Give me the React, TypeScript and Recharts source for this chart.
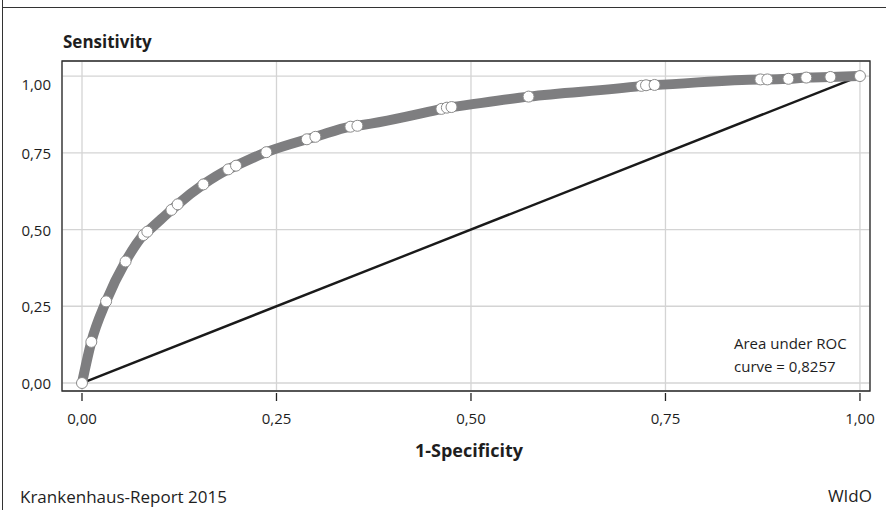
import React from 'react';
import { LineChart, Line, XAxis, YAxis, CartesianGrid, ReferenceArea } from 'recharts';

const fpr = [0, 0.012, 0.031, 0.056, 0.079, 0.084, 0.115, 0.123, 0.156, 0.188, 0.198, 0.237, 0.289, 0.3, 0.345, 0.354, 0.462, 0.469, 0.475, 0.574, 0.719, 0.725, 0.736, 0.872, 0.881, 0.908, 0.931, 0.962, 1];
const tpr = [0, 0.134, 0.266, 0.396, 0.482, 0.493, 0.564, 0.582, 0.647, 0.696, 0.708, 0.752, 0.794, 0.802, 0.835, 0.838, 0.893, 0.897, 0.899, 0.933, 0.968, 0.97, 0.971, 0.989, 0.989, 0.991, 0.995, 0.997, 1];
const diagonalFpr = [0, 1];
const diagonalTpr = [0, 1];
const xTicks = [0, 0.25, 0.5, 0.75, 1];
const yTicks = [0, 0.25, 0.5, 0.75, 1];
const xTickLabels = ['0,00', '0,25', '0,50', '0,75', '1,00'];
const yTickLabels = ['0,00', '0,25', '0,50', '0,75', '1,00'];
const aucLines = ['Area under ROC', 'curve = 0,8257'];
const xDomain = [-0.0257, 1.0129];
const yDomain = [-0.026, 1.049];

const rocData = fpr.map((x, i) => ({ fpr: x, tpr: tpr[i] }));
const diagData = diagonalFpr.map((x, i) => ({ fpr: x, tpr: diagonalTpr[i] }));

const FONT = "'Open Sans', sans-serif";
const TEXT = '#1e1e1e';

const XTick = (props: any) => {
  const { x, y, payload } = props;
  const idx = xTicks.indexOf(payload.value);
  return (
    <g>
      <line x1={x} x2={x} y1={y + 2} y2={y + 10} stroke="#222" strokeWidth={1.3} />
      <text x={x} y={y + 33} textAnchor="middle" fontFamily={FONT} fontSize={15} fill={TEXT}>
        {xTickLabels[idx]}
      </text>
    </g>
  );
};

const YTick = (props: any) => {
  const { x, y, payload } = props;
  const idx = yTicks.indexOf(payload.value);
  const shift = payload.value === 1 ? 13.5 : 6;
  return (
    <text x={x - 11} y={y + shift} textAnchor="end" fontFamily={FONT} fontSize={15} fill={TEXT}>
      {yTickLabels[idx]}
    </text>
  );
};

export default function App() {
  return (
    <div style={{ position: 'absolute', left: 0, top: 0, width: 886, height: 510, background: '#fff', fontFamily: FONT, color: TEXT }}>
      <div style={{ position: 'absolute', left: 2, top: 7, width: 884, height: 1.4, background: '#333' }} />
      <div style={{ position: 'absolute', left: 2, top: 0, width: 1.4, height: 510, background: '#333' }} />
      <LineChart width={886} height={510} margin={{ top: 61, right: 16, bottom: 0, left: 0 }}>
        <CartesianGrid stroke="#d4d4d4" strokeWidth={1.3} />
        <XAxis
          type="number"
          dataKey="fpr"
          domain={xDomain}
          ticks={xTicks}
          allowDataOverflow
          height={119}
          axisLine={false}
          tickLine={false}
          tickSize={0}
          tickMargin={0}
          tick={<XTick />}
          interval={0}
        />
        <YAxis
          type="number"
          dataKey="tpr"
          domain={yDomain}
          ticks={yTicks}
          allowDataOverflow
          width={62}
          axisLine={false}
          tickLine={false}
          tickSize={0}
          tickMargin={0}
          tick={<YTick />}
          interval={0}
        />
        <Line data={diagData} dataKey="tpr" type="linear" stroke="#1a1a1a" strokeWidth={2.4} dot={false} isAnimationActive={false} />
        <Line
          data={rocData}
          dataKey="tpr"
          type="monotone"
          stroke="#7e7e80"
          strokeWidth={10}
          dot={{ r: 5.5, fill: '#ffffff', stroke: '#8c8c8c', strokeWidth: 1 }}
          isAnimationActive={false}
        />
        <ReferenceArea
          x1={xDomain[0]}
          x2={xDomain[1]}
          y1={yDomain[0]}
          y2={yDomain[1]}
          fill="none"
          fillOpacity={0}
          stroke="#2a2a2a"
          strokeWidth={1.3}
          ifOverflow="visible"
        />
      </LineChart>
      <div style={{ position: 'absolute', left: 63, top: 32, fontSize: 17, lineHeight: '20px', fontWeight: 700 }}>Sensitivity</div>
      <div style={{ position: 'absolute', left: 369, width: 200, top: 440, fontSize: 18, lineHeight: '20px', fontWeight: 700, textAlign: 'center' }}>1-Specificity</div>
      <div style={{ position: 'absolute', left: 734, top: 332, fontSize: 15, lineHeight: '23.4px' }}>
        {aucLines.map((l) => (
          <div key={l}>{l}</div>
        ))}
      </div>
      <div style={{ position: 'absolute', left: 20, top: 487, fontSize: 17, lineHeight: '20px' }}>Krankenhaus-Report 2015</div>
      <div style={{ position: 'absolute', right: 14, top: 486, fontSize: 17, lineHeight: '20px' }}>WIdO</div>
    </div>
  );
}
